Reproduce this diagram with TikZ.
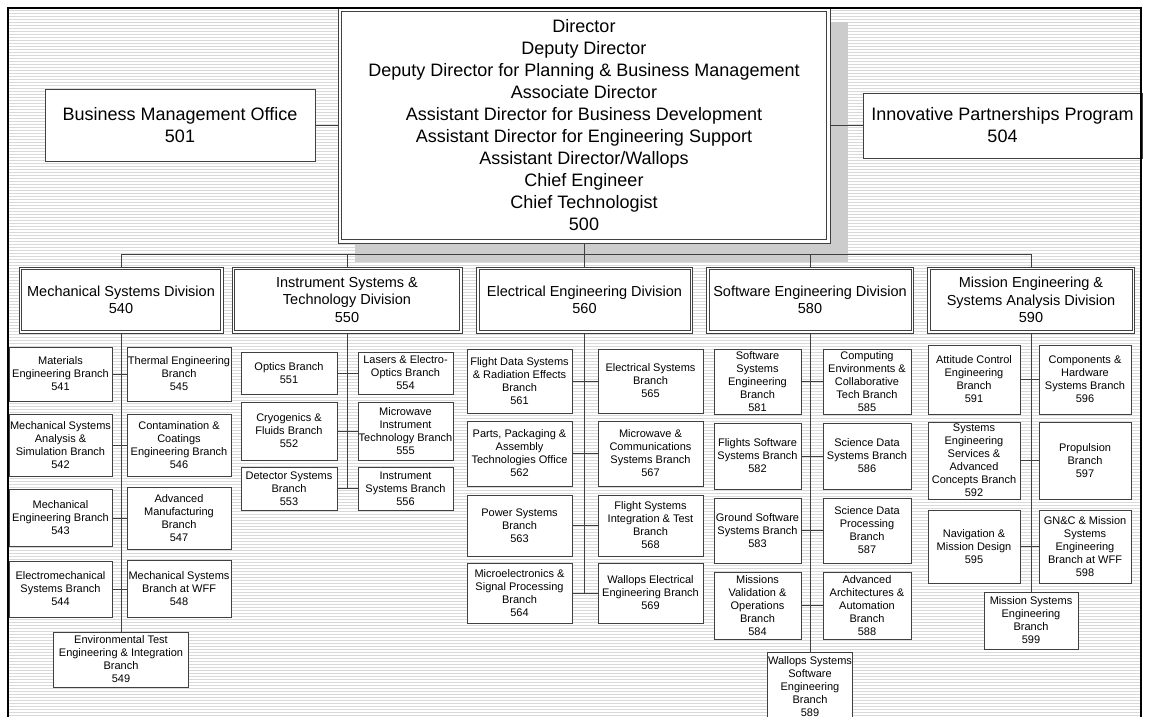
\documentclass[tikz,border=0pt]{standalone}
\usepackage{fontspec}
\setmainfont{Liberation Sans}

\definecolor{linegray}{gray}{0.25}
\definecolor{shadowgray}{gray}{0.8}

\tikzset{
  box/.style={draw=linegray, fill=white, line width=0.8pt, align=center, inner sep=0pt},
  division/.style={box, minimum height=66, font=\fontsize{14.5}{17.5}\selectfont},
  branch/.style={box, font=\fontsize{11}{13}\selectfont},
  link/.style={draw=linegray, line width=0.8pt},
  stripe/.style={draw=gray!30, line width=0.5pt},
}

\begin{document}
\begin{tikzpicture}[x=1pt, y=-1pt]
  \useasboundingbox (0,0) rectangle (1149,717);
  % fond raye
  \fill[white] (8,8) rectangle (1141,725);
  \foreach \y in {10,13,...,716} \draw[stripe] (9,\y) -- (1140,\y);
  % ombre du directeur
  \fill[shadowgray] (355,22) rectangle (848,262);

  % direction
  \node[box, minimum width=492, minimum height=235, font=\fontsize{18}{22}\selectfont] (dir) at (584,125.5)
    {Director\\Deputy Director\\Deputy Director for Planning \& Business Management\\Associate Director\\Assistant Director for Business Development\\Assistant Director for Engineering Support\\Assistant Director/Wallops\\Chief Engineer\\Chief Technologist\\500};
  \draw[link] ([shift={(4,4)}]dir.north west) rectangle ([shift={(-4,-4)}]dir.south east);
  \node[box, minimum width=270, minimum height=72, font=\fontsize{18}{22}\selectfont] (bmo) at (180,125) {Business Management Office\\501};
  \node[box, minimum width=279, minimum height=65, font=\fontsize{18}{22}\selectfont] (ipp) at (1002.5,125.5) {Innovative Partnerships Program\\504};

  % divisions
  \node[division, minimum width=204] (d540) at (121,300) {Mechanical Systems Division\\540};
  \node[division, minimum width=230] (d550) at (347,300) {Instrument Systems \&\\Technology Division\\550};
  \node[division, minimum width=216] (d560) at (584.5,300) {Electrical Engineering Division\\560};
  \node[division, minimum width=207] (d580) at (810,300) {Software Engineering Division\\580};
  \node[division, minimum width=207] (d590) at (1031,300) {Mission Engineering \&\\Systems Analysis Division\\590};
  \foreach \d in {540,550,560,580,590}
    \draw[link] ([shift={(3,3)}]d\d.north west) rectangle ([shift={(-3,-3)}]d\d.south east);

  % branches 540
  \node[branch, minimum width=103, minimum height=54] (b541) at (60.5,374) {Materials\\Engineering Branch\\541};
  \node[branch, minimum width=104, minimum height=54] (b545) at (179,374) {Thermal Engineering\\Branch\\545};
  \node[branch, minimum width=103, minimum height=62] (b542) at (60.5,445) {Mechanical Systems\\Analysis \&\\Simulation Branch\\542};
  \node[branch, minimum width=104, minimum height=62] (b546) at (179,445) {Contamination \&\\Coatings\\Engineering Branch\\546};
  \node[branch, minimum width=103, minimum height=57] (b543) at (60.5,518) {Mechanical\\Engineering Branch\\543};
  \node[branch, minimum width=104, minimum height=62] (b547) at (179,518) {Advanced\\Manufacturing\\Branch\\547};
  \node[branch, minimum width=103, minimum height=56] (b544) at (60.5,589) {Electromechanical\\Systems Branch\\544};
  \node[branch, minimum width=104, minimum height=57] (b548) at (179,589) {Mechanical Systems\\Branch at WFF\\548};
  \node[branch, minimum width=135, minimum height=55] (b549) at (121,659.5) {Environmental Test\\Engineering \& Integration\\Branch\\549};

  % branches 550
  \node[branch, minimum width=96, minimum height=42] (b551) at (289,373) {Optics Branch\\551};
  \node[branch, minimum width=95, minimum height=42] (b554) at (405.5,373) {Lasers \& Electro-\\Optics Branch\\554};
  \node[branch, minimum width=96, minimum height=58] (b552) at (289,431) {Cryogenics \&\\Fluids Branch\\552};
  \node[branch, minimum width=95, minimum height=58] (b555) at (405.5,431) {Microwave\\Instrument\\Technology Branch\\555};
  \node[branch, minimum width=96, minimum height=43] (b553) at (289,488.5) {Detector Systems\\Branch\\553};
  \node[branch, minimum width=95, minimum height=43] (b556) at (405.5,488.5) {Instrument\\Systems Branch\\556};

  % branches 560
  \node[branch, minimum width=105, minimum height=64] (b561) at (519.5,381) {Flight Data Systems\\\& Radiation Effects\\Branch\\561};
  \node[branch, minimum width=105, minimum height=64] (b565) at (650.5,381) {Electrical Systems\\Branch\\565};
  \node[branch, minimum width=105, minimum height=65] (b562) at (519.5,453.5) {Parts, Packaging \&\\Assembly\\Technologies Office\\562};
  \node[branch, minimum width=105, minimum height=65] (b567) at (650.5,453.5) {Microwave \&\\Communications\\Systems Branch\\567};
  \node[branch, minimum width=105, minimum height=61] (b563) at (519.5,525.5) {Power Systems\\Branch\\563};
  \node[branch, minimum width=105, minimum height=61] (b568) at (650.5,525.5) {Flight Systems\\Integration \& Test\\Branch\\568};
  \node[branch, minimum width=105, minimum height=60] (b564) at (519.5,593) {Microelectronics \&\\Signal Processing\\Branch\\564};
  \node[branch, minimum width=105, minimum height=60] (b569) at (650.5,593) {Wallops Electrical\\Engineering Branch\\569};

  % branches 580
  \node[branch, minimum width=87, minimum height=65] (b581) at (757.5,381.5) {Software\\Systems\\Engineering\\Branch\\581};
  \node[branch, minimum width=88, minimum height=65] (b585) at (867,381.5) {Computing\\Environments \&\\Collaborative\\Tech Branch\\585};
  \node[branch, minimum width=87, minimum height=66] (b582) at (757.5,456) {Flights Software\\Systems Branch\\582};
  \node[branch, minimum width=88, minimum height=66] (b586) at (867,456) {Science Data\\Systems Branch\\586};
  \node[branch, minimum width=87, minimum height=65] (b583) at (757.5,530.5) {Ground Software\\Systems Branch\\583};
  \node[branch, minimum width=88, minimum height=65] (b587) at (867,530.5) {Science Data\\Processing\\Branch\\587};
  \node[branch, minimum width=87, minimum height=67] (b584) at (757.5,605.5) {Missions\\Validation \&\\Operations\\Branch\\584};
  \node[branch, minimum width=88, minimum height=67] (b588) at (867,605.5) {Advanced\\Architectures \&\\Automation\\Branch\\588};
  \node[branch, minimum width=85, minimum height=70] (b589) at (810,687) {Wallops Systems\\Software\\Engineering\\Branch\\589};

  % branches 590
  \node[branch, minimum width=92, minimum height=69] (b591) at (974,379.5) {Attitude Control\\Engineering\\Branch\\591};
  \node[branch, minimum width=92, minimum height=69] (b596) at (1085,379.5) {Components \&\\Hardware\\Systems Branch\\596};
  \node[branch, minimum width=92, minimum height=77] (b592) at (974,460.5) {Systems\\Engineering\\Services \&\\Advanced\\Concepts Branch\\592};
  \node[branch, minimum width=92, minimum height=77] (b597) at (1085,460.5) {Propulsion\\Branch\\597};
  \node[branch, minimum width=92, minimum height=73] (b595) at (974,546.5) {Navigation \&\\Mission Design\\595};
  \node[branch, minimum width=92, minimum height=73] (b598) at (1085,546.5) {GN\&C \& Mission\\Systems\\Engineering\\Branch at WFF\\598};
  \node[branch, minimum width=94, minimum height=57] (b599) at (1031,620.5) {Mission Systems\\Engineering\\Branch\\599};

  % liaisons
  \draw[link] (bmo.east) -- (bmo.east -| dir.west);
  \draw[link] (ipp.west) -- (ipp.west -| dir.east);
  \coordinate (bus) at (584,254);
  \draw[link] (dir.south) -- (bus);
  \foreach \d in {540,550,560,580,590} \draw[link] (bus) -| (d\d.north);
  \draw[link] (d540.south) -- (b549.north);
  \draw[link] (d550.south) -- (d550.south |- b553.east);
  \draw[link] (d560.south) -- (d560.south |- b564.east);
  \draw[link] (d580.south) -- (b589.north);
  \draw[link] (d590.south) -- (b599.north);
  \foreach \l/\r in {541/545,542/546,543/547,544/548,551/554,552/555,553/556,561/565,562/567,563/568,564/569,581/585,582/586,583/587,584/588,591/596,592/597,595/598}
    \draw[link] (b\l.east) -- (b\r.west);

  % cadre
  \draw[line width=2pt, black] (8,8) rectangle (1141,725);
\end{tikzpicture}
\end{document}
